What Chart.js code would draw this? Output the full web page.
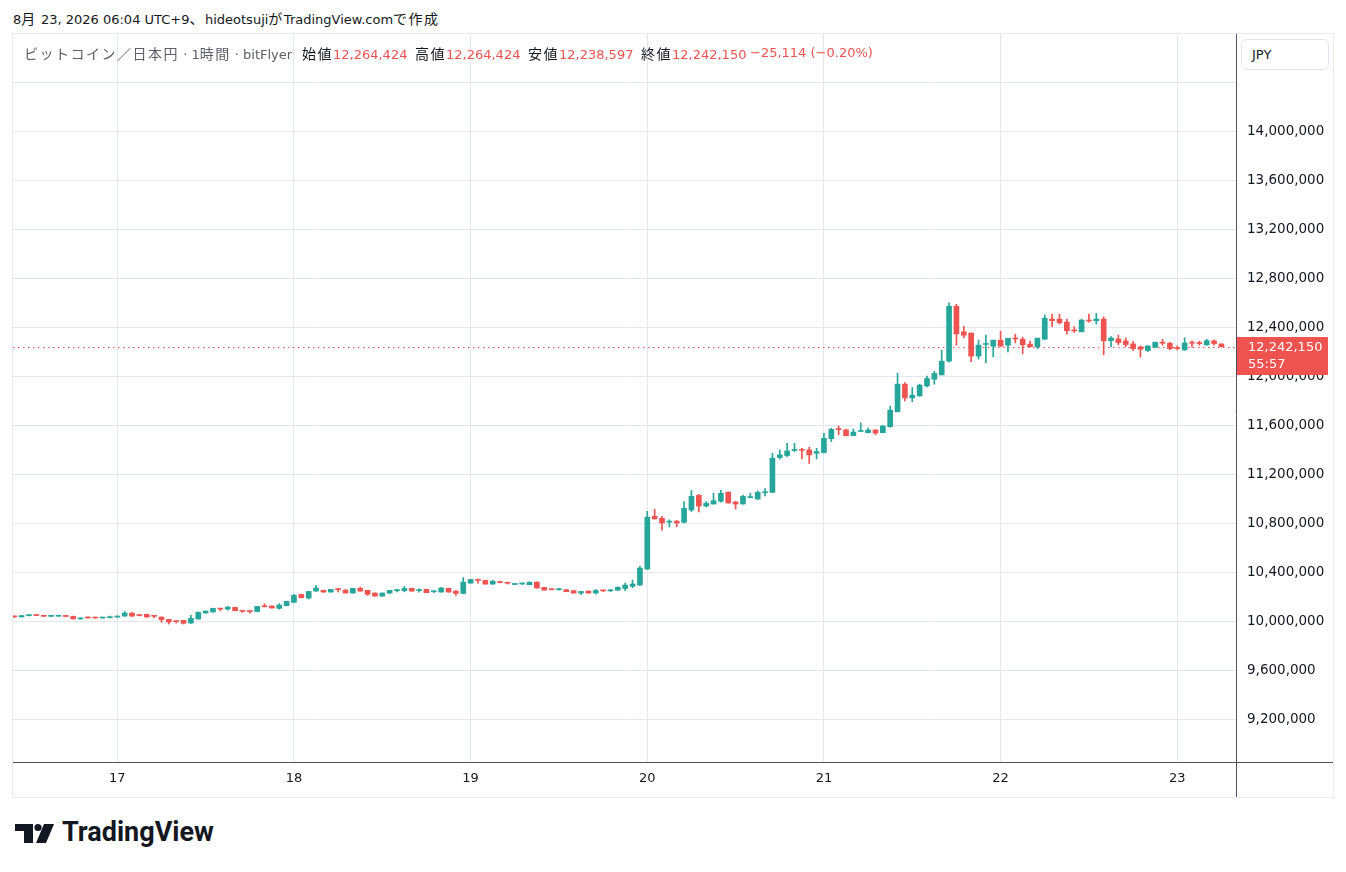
<!DOCTYPE html>
<html><head><meta charset="utf-8">
<script src="https://cdn.jsdelivr.net/npm/chart.js@4.4.1/dist/chart.umd.min.js"></script>
<style>
html,body{margin:0;padding:0;background:#fff;}
body{width:1346px;height:872px;position:relative;overflow:hidden;font-family:"DejaVu Sans","Noto Sans CJK JP",sans-serif;}
.j{font-family:"Noto Sans CJK JP",sans-serif;font-size:14px;letter-spacing:1.5px;}
#hdr{position:absolute;left:13px;top:10px;font-size:13px;color:#131722;white-space:nowrap;line-height:16px;}
#frame{position:absolute;left:12px;top:33px;width:1322px;height:765px;box-sizing:border-box;border:1px solid #e8eaef;}
#wrap{position:absolute;left:13px;top:34px;width:1320px;height:763px;}
.lg{position:absolute;top:45px;font-size:13px;white-space:nowrap;line-height:16px;color:#131722;}
.r{color:#ef5350;}
#jpy{position:absolute;left:1241px;top:39px;width:88px;height:31px;box-sizing:border-box;border:1px solid #e0e3eb;border-radius:6px;font-size:13px;line-height:29px;padding-left:10px;color:#131722;background:#fff;}
#logo{position:absolute;left:15px;top:820px;}
#logotext{position:absolute;left:62px;top:815px;font-family:Roboto,"Noto Sans",sans-serif;font-weight:700;font-size:27px;color:#131722;line-height:34px;}
</style>
</head>
<body>
<div id="hdr">8<span class="j">月</span> 23, 2026 06:04 UTC+9<span class="j">、</span>hideotsuji<span class="j">が</span>TradingView.com<span class="j">で作成</span></div>
<div id="frame"></div>
<div id="wrap"><canvas id="c" width="1320" height="763" style="width:1320px;height:763px"></canvas></div>
<div class="lg" style="left:24px;color:#5d606b"><span class="j">ビットコイン／日本円</span> · 1<span class="j">時間</span> · bitFlyer</div>
<div class="lg" id="lgO" style="left:302px"></div>
<div class="lg" id="lgH" style="left:415px"></div>
<div class="lg" id="lgL" style="left:528px"></div>
<div class="lg" id="lgC" style="left:641px"></div>
<div class="lg r" id="lgD" style="left:750px"></div>
<div id="jpy">JPY</div>
<svg id="logo" width="44" height="26" viewBox="0 0 44 26">
  <polygon points="0,4 18,4 18,23 9,23 9,11 0,11" fill="#131722"/>
  <circle cx="23" cy="7.5" r="3.6" fill="#131722"/>
  <polygon points="29,4 39,4 31,23 21,23" fill="#131722"/>
</svg>
<div id="logotext">TradingView</div>
<script>
// ---- data (JPY, 1-hour candles, first candle = 2026-08-16 10:00 UTC+9) ----
const firstCandleDay = 16;
const firstCandleHour = 10;

const opens = [
10042000,10036000,10047000,10049000,10047000,10041000,10042000,10043000,10040000,10020000,
10030000,10028000,10027000,10030000,10035000,10043000,10068000,10050000,10057000,10049000,
10035000,10016000,10001000,10008000,9986000,10019000,10068000,10076000,10103000,10100000,
10114000,10087000,10082000,10080000,10122000,10125000,10106000,10128000,10155000,10220000,
10190000,10247000,10253000,10239000,10260000,10253000,10231000,10269000,10253000,10231000,
10206000,10231000,10251000,10250000,10269000,10251000,10261000,10242000,10239000,10269000,
10247000,10228000,10312000,10342000,10334000,10304000,10320000,10315000,10301000,10305000,
10299000,10320000,10277000,10262000,10258000,10258000,10250000,10231000,10247000,10231000,
10252000,10249000,10255000,10268000,10286000,10296000,10427000,10858000,10841000,10810000,
10818000,10809000,10909000,11028000,10941000,10958000,10980000,11053000,10974000,10958000,
11010000,10998000,11050000,11053000,11337000,11353000,11395000,11400000,11399000,11372000,
11377000,11491000,11570000,11562000,11516000,11550000,11540000,11562000,11540000,11589000,
11711000,11936000,11824000,11840000,11922000,11976000,12012000,12124000,12572000,12363000,
12352000,12165000,12260000,12246000,12295000,12254000,12311000,12303000,12263000,12241000,
12303000,12467000,12467000,12443000,12377000,12364000,12459000,12454000,12467000,12291000,
12305000,12289000,12264000,12240000,12210000,12237000,12275000,12270000,12234000,12215000,
12275000,12272000,12256000,12289000,12264424];

const highs = [
10045000,10048000,10050000,10050000,10048000,10043000,10044000,10044000,10042000,10028000,
10032000,10030000,10031000,10043000,10045000,10081000,10072000,10052000,10059000,10050000,
10036000,10017000,10002000,10009000,10049000,10079000,10085000,10108000,10105000,10122000,
10116000,10089000,10084000,10123000,10144000,10127000,10144000,10165000,10220000,10222000,
10246000,10293000,10255000,10262000,10269000,10261000,10270000,10280000,10254000,10232000,
10232000,10254000,10261000,10285000,10271000,10266000,10263000,10247000,10277000,10271000,
10252000,10358000,10343000,10344000,10336000,10334000,10328000,10320000,10307000,10315000,
10321000,10322000,10279000,10264000,10269000,10260000,10252000,10245000,10249000,10260000,
10254000,10260000,10282000,10313000,10337000,10449000,10898000,10915000,10858000,10828000,
10823000,10977000,11069000,11037000,10977000,11045000,11069000,11058000,10980000,11028000,
11045000,11064000,11083000,11372000,11399000,11454000,11454000,11413000,11421000,11413000,
11535000,11576000,11594000,11570000,11570000,11621000,11578000,11564000,11600000,11757000,
12025000,11949000,11909000,11936000,12001000,12041000,12214000,12599000,12588000,12409000,
12354000,12295000,12336000,12295000,12368000,12311000,12344000,12320000,12287000,12313000,
12501000,12508000,12508000,12467000,12405000,12465000,12508000,12514000,12486000,12324000,
12337000,12313000,12286000,12248000,12250000,12280000,12302000,12278000,12248000,12315000,
12289000,12286000,12302000,12297000,12264424];

const lows = [
10032000,10035000,10045000,10046000,10040000,10039000,10040000,10039000,10018000,10017000,
10026000,10026000,10026000,10029000,10034000,10041000,10041000,10044000,10034000,10030000,
9992000,9978000,9986000,9978000,9984000,10017000,10067000,10075000,10085000,10092000,
10086000,10073000,10068000,10078000,10118000,10107000,10100000,10126000,10153000,10191000,
10182000,10245000,10237000,10238000,10241000,10230000,10230000,10246000,10212000,10205000,
10205000,10225000,10241000,10241000,10246000,10239000,10233000,10234000,10238000,10238000,
10212000,10226000,10310000,10312000,10303000,10302000,10314000,10304000,10299000,10299000,
10298000,10271000,10254000,10257000,10255000,10241000,10230000,10217000,10230000,10223000,
10243000,10243000,10250000,10250000,10275000,10294000,10425000,10834000,10744000,10771000,
10771000,10803000,10896000,10893000,10933000,10956000,10972000,10964000,10917000,10956000,
11008000,10996000,11023000,11050000,11324000,11345000,11385000,11326000,11288000,11326000,
11375000,11467000,11524000,11514000,11514000,11548000,11538000,11524000,11538000,11584000,
11709000,11800000,11792000,11838000,11914000,11936000,12010000,12116000,12254000,12314000,
12119000,12141000,12111000,12160000,12244000,12200000,12273000,12184000,12239000,12225000,
12301000,12405000,12427000,12345000,12359000,12362000,12441000,12427000,12175000,12242000,
12256000,12242000,12210000,12156000,12202000,12235000,12254000,12215000,12215000,12213000,
12237000,12254000,12254000,12255000,12238597];

const closes = [
10036000,10047000,10049000,10047000,10041000,10042000,10043000,10040000,10020000,10027000,
10028000,10027000,10030000,10035000,10043000,10068000,10043000,10047000,10035000,10041000,
10014000,9995000,9998000,9984000,10024000,10073000,10084000,10106000,10100000,10117000,
10087000,10082000,10080000,10122000,10119000,10109000,10133000,10163000,10212000,10193000,
10244000,10272000,10239000,10261000,10258000,10231000,10269000,10247000,10220000,10206000,
10231000,10253000,10255000,10269000,10247000,10254000,10234000,10245000,10272000,10239000,
10228000,10320000,10342000,10334000,10304000,10328000,10316000,10311000,10304000,10308000,
10320000,10272000,10255000,10258000,10262000,10242000,10231000,10244000,10231000,10252000,
10249000,10252000,10278000,10296000,10305000,10435000,10850000,10836000,10803000,10814000,
10803000,10923000,11020000,10941000,10963000,10985000,11045000,10966000,10958000,11020000,
11014000,11053000,11055000,11332000,11359000,11391000,11400000,11396000,11359000,11386000,
11494000,11567000,11565000,11516000,11545000,11553000,11562000,11537000,11594000,11724000,
11936000,11824000,11846000,11928000,11982000,12023000,12124000,12572000,12346000,12336000,
12165000,12254000,12263000,12295000,12246000,12311000,12305000,12257000,12241000,12311000,
12474000,12454000,12437000,12372000,12370000,12459000,12451000,12467000,12291000,12313000,
12275000,12259000,12226000,12221000,12248000,12278000,12270000,12226000,12226000,12272000,
12270000,12267000,12291000,12267264,12242150];

const yTickValues = [9200000,9600000,10000000,10400000,10800000,11200000,11600000,12000000,12400000,12800000,13200000,13600000,14000000,14400000];
const yLabelMax = 14000000;
const countdownText = '55:57';

// ---- styles ----
const UP = '#26a69a', DOWN = '#ef5350';
const GRID = '#e3e7ee', AXIS = '#50535e', TXT = '#131722';
const FONT = '"DejaVu Sans","Noto Sans CJK JP",sans-serif';

// candle day boundaries from the candle clock
const dayTicks = [];
for (let i = 0; i < closes.length; i++) {
  const h = (firstCandleHour + i) % 24;
  if (h === 0) dayTicks.push({ idx: i, label: String(firstCandleDay + Math.floor((firstCandleHour + i) / 24)) });
}
const dayLabel = {};
dayTicks.forEach(d => { dayLabel[d.idx] = d.label; });

const fmt = v => v.toLocaleString('en-US');
const last = closes.length - 1;
const lastClose = closes[last];
const prevClose = closes[last - 1];
const diff = lastClose - prevClose;
const pct = diff / prevClose * 100;
const sgn = v => (v < 0 ? '\u2212' : '+');
document.getElementById('lgO').innerHTML = '<span class="j">始値</span><span class="r">' + fmt(opens[last]) + '</span>';
document.getElementById('lgH').innerHTML = '<span class="j">高値</span><span class="r">' + fmt(highs[last]) + '</span>';
document.getElementById('lgL').innerHTML = '<span class="j">安値</span><span class="r">' + fmt(lows[last]) + '</span>';
document.getElementById('lgC').innerHTML = '<span class="j">終値</span><span class="r">' + fmt(lastClose) + '</span>';
document.getElementById('lgD').textContent = sgn(diff) + fmt(Math.abs(diff)) + ' (' + sgn(pct) + Math.abs(pct).toFixed(2) + '%)';

const colorOf = ctx => (closes[ctx.dataIndex] >= opens[ctx.dataIndex] ? UP : DOWN);

const wickData = closes.map((c, i) => ({ x: i, y: [lows[i], highs[i]] }));
const bodyData = closes.map((c, i) => ({ x: i, y: [opens[i], c] }));

const overlay = {
  id: 'overlay',
  beforeDatasetsDraw(chart) {
    const { ctx, chartArea: a, scales: { y } } = chart;
    const py = Math.round(y.getPixelForValue(lastClose)) + 0.5;
    ctx.save();
    ctx.strokeStyle = DOWN; ctx.lineWidth = 1; ctx.setLineDash([1.5, 3.5]);
    ctx.beginPath(); ctx.moveTo(a.left, py); ctx.lineTo(a.right, py); ctx.stroke();
    ctx.restore();
  },
  afterDraw(chart) {
    const { ctx, chartArea: a, scales: { y } } = chart;
    ctx.save();
    ctx.strokeStyle = AXIS; ctx.lineWidth = 1;
    ctx.beginPath();
    ctx.moveTo(a.right + 0.5, 0); ctx.lineTo(a.right + 0.5, chart.height);
    ctx.moveTo(0, a.bottom + 0.5); ctx.lineTo(chart.width, a.bottom + 0.5);
    ctx.stroke();
    const py = y.getPixelForValue(lastClose);
    const bx = a.right + 1, by = Math.round(py) - 10;
    ctx.fillStyle = lastClose >= prevClose ? UP : DOWN;
    ctx.fillRect(bx, by, 91, 38);
    ctx.fillStyle = '#ffffff';
    ctx.font = '13px ' + FONT;
    ctx.textBaseline = 'middle'; ctx.textAlign = 'left';
    ctx.fillText(fmt(lastClose), a.right + 12, by + 10.5);
    ctx.fillText(countdownText, a.right + 12, by + 28);
    ctx.restore();
  }
};

const zeroPad = s => { s.paddingTop = 0; s.paddingBottom = 0; s.paddingLeft = 0; s.paddingRight = 0; };

new Chart(document.getElementById('c'), {
  type: 'bar',
  data: {
    datasets: [
      { data: wickData, backgroundColor: colorOf, barThickness: 1, grouped: false, minBarLength: 1, order: 2 },
      { data: bodyData, backgroundColor: colorOf, barThickness: 5, grouped: false, minBarLength: 1, order: 1 }
    ]
  },
  options: {
    responsive: false,
    devicePixelRatio: 1,
    animation: false,
    layout: { padding: 0 },
    plugins: { legend: { display: false }, tooltip: { enabled: false } },
    scales: {
      x: {
        type: 'linear',
        position: 'bottom',
        min: -0.17,
        max: 165.98,
        offset: false,
        afterBuildTicks: axis => { axis.ticks = dayTicks.map(d => ({ value: d.idx })); },
        afterFit: s => { s.height = 35; zeroPad(s); },
        grid: { color: GRID, drawTicks: false, lineWidth: 1, offset: false },
        border: { display: false },
        ticks: {
          autoSkip: false, maxRotation: 0, padding: 9, color: TXT,
          font: { family: FONT, size: 13 },
          callback: v => dayLabel[v] || ''
        }
      },
      y: {
        position: 'right',
        min: 8852000,
        max: 14794000,
        afterBuildTicks: axis => { axis.ticks = yTickValues.map(v => ({ value: v })); },
        afterFit: s => { s.width = 97; zeroPad(s); },
        grid: { color: GRID, drawTicks: false, lineWidth: 1, offset: false },
        border: { display: false },
        ticks: {
          padding: 11, color: TXT,
          font: { family: FONT, size: 13.5 },
          callback: v => (v > yLabelMax ? '' : fmt(v))
        }
      }
    }
  },
  plugins: [overlay]
});
</script>
</body></html>
